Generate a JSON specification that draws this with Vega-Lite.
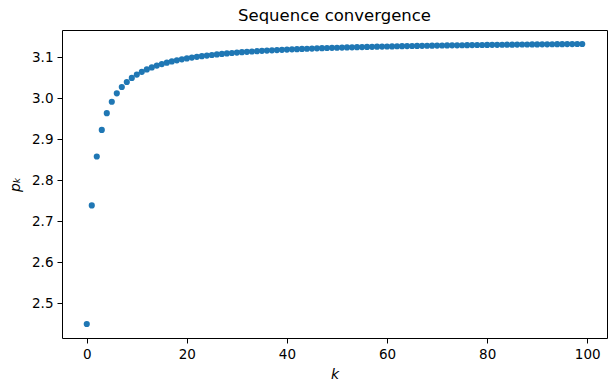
{
  "$schema": "https://vega.github.io/schema/vega-lite/v6.json",
  "width": 545,
  "height": 308,
  "autosize": "none",
  "padding": {"left": 62, "top": 30, "right": 7, "bottom": 54},
  "background": "white",
  "title": {"text": "Sequence convergence", "fontSize": 16.5, "fontWeight": "normal", "font": "DejaVu Sans", "color": "black", "offset": 6},
  "config": {
    "view": {"stroke": "black", "strokeWidth": 1},
    "axis": {"grid": false, "domain": false, "tickColor": "black", "tickSize": 5, "labelFont": "DejaVu Sans", "labelFontSize": 13.5, "labelColor": "black", "labelPadding": 4, "titleFont": "DejaVu Sans", "titleFontSize": 14, "titleFontWeight": "normal", "titleFontStyle": "italic", "titleColor": "black"}
  },
  "data": {"values": [
    {"k": 0, "p": 2.44949}, {"k": 1, "p": 2.73861}, {"k": 2, "p": 2.85774}, {"k": 3, "p": 2.92261},
    {"k": 4, "p": 2.96339}, {"k": 5, "p": 2.99138}, {"k": 6, "p": 3.01177}, {"k": 7, "p": 3.02730},
    {"k": 8, "p": 3.03951}, {"k": 9, "p": 3.04936}, {"k": 10, "p": 3.05748}, {"k": 11, "p": 3.06429},
    {"k": 12, "p": 3.07008}, {"k": 13, "p": 3.07506}, {"k": 14, "p": 3.07939}, {"k": 15, "p": 3.08319},
    {"k": 16, "p": 3.08656}, {"k": 17, "p": 3.08956}, {"k": 18, "p": 3.09225}, {"k": 19, "p": 3.09467},
    {"k": 20, "p": 3.09687}, {"k": 21, "p": 3.09887}, {"k": 22, "p": 3.10070}, {"k": 23, "p": 3.10238},
    {"k": 24, "p": 3.10392}, {"k": 25, "p": 3.10535}, {"k": 26, "p": 3.10668}, {"k": 27, "p": 3.10791},
    {"k": 28, "p": 3.10906}, {"k": 29, "p": 3.11013}, {"k": 30, "p": 3.11113}, {"k": 31, "p": 3.11208},
    {"k": 32, "p": 3.11296}, {"k": 33, "p": 3.11379}, {"k": 34, "p": 3.11458}, {"k": 35, "p": 3.11532},
    {"k": 36, "p": 3.11603}, {"k": 37, "p": 3.11669}, {"k": 38, "p": 3.11733}, {"k": 39, "p": 3.11793},
    {"k": 40, "p": 3.11850}, {"k": 41, "p": 3.11905}, {"k": 42, "p": 3.11956}, {"k": 43, "p": 3.12006},
    {"k": 44, "p": 3.12054}, {"k": 45, "p": 3.12099}, {"k": 46, "p": 3.12143}, {"k": 47, "p": 3.12184},
    {"k": 48, "p": 3.12224}, {"k": 49, "p": 3.12263}, {"k": 50, "p": 3.12300}, {"k": 51, "p": 3.12335},
    {"k": 52, "p": 3.12369}, {"k": 53, "p": 3.12402}, {"k": 54, "p": 3.12434}, {"k": 55, "p": 3.12465},
    {"k": 56, "p": 3.12494}, {"k": 57, "p": 3.12523}, {"k": 58, "p": 3.12550}, {"k": 59, "p": 3.12577},
    {"k": 60, "p": 3.12603}, {"k": 61, "p": 3.12628}, {"k": 62, "p": 3.12652}, {"k": 63, "p": 3.12675},
    {"k": 64, "p": 3.12698}, {"k": 65, "p": 3.12720}, {"k": 66, "p": 3.12741}, {"k": 67, "p": 3.12762},
    {"k": 68, "p": 3.12782}, {"k": 69, "p": 3.12802}, {"k": 70, "p": 3.12821}, {"k": 71, "p": 3.12839},
    {"k": 72, "p": 3.12857}, {"k": 73, "p": 3.12875}, {"k": 74, "p": 3.12892}, {"k": 75, "p": 3.12909},
    {"k": 76, "p": 3.12925}, {"k": 77, "p": 3.12940}, {"k": 78, "p": 3.12956}, {"k": 79, "p": 3.12971},
    {"k": 80, "p": 3.12985}, {"k": 81, "p": 3.13000}, {"k": 82, "p": 3.13014}, {"k": 83, "p": 3.13027},
    {"k": 84, "p": 3.13040}, {"k": 85, "p": 3.13054}, {"k": 86, "p": 3.13066}, {"k": 87, "p": 3.13078},
    {"k": 88, "p": 3.13091}, {"k": 89, "p": 3.13102}, {"k": 90, "p": 3.13114}, {"k": 91, "p": 3.13125},
    {"k": 92, "p": 3.13136}, {"k": 93, "p": 3.13147}, {"k": 94, "p": 3.13158}, {"k": 95, "p": 3.13168},
    {"k": 96, "p": 3.13178}, {"k": 97, "p": 3.13188}, {"k": 98, "p": 3.13198}, {"k": 99, "p": 3.13208}
  ]},
  "mark": {"type": "circle", "size": 38, "color": "#1f77b4", "opacity": 1},
  "encoding": {
    "x": {"field": "k", "type": "quantitative", "scale": {"domain": [-4.95, 103.95], "nice": false, "zero": false},
      "axis": {"values": [0, 20, 40, 60, 80, 100], "title": "k", "titlePadding": 7}},
    "y": {"field": "p", "type": "quantitative", "scale": {"domain": [2.4154, 3.1662], "nice": false, "zero": false},
      "axis": {"values": [2.5, 2.6, 2.7, 2.8, 2.9, 3.0, 3.1], "format": ".1f", "title": "pₖ", "titlePadding": 9}}
  }
}
